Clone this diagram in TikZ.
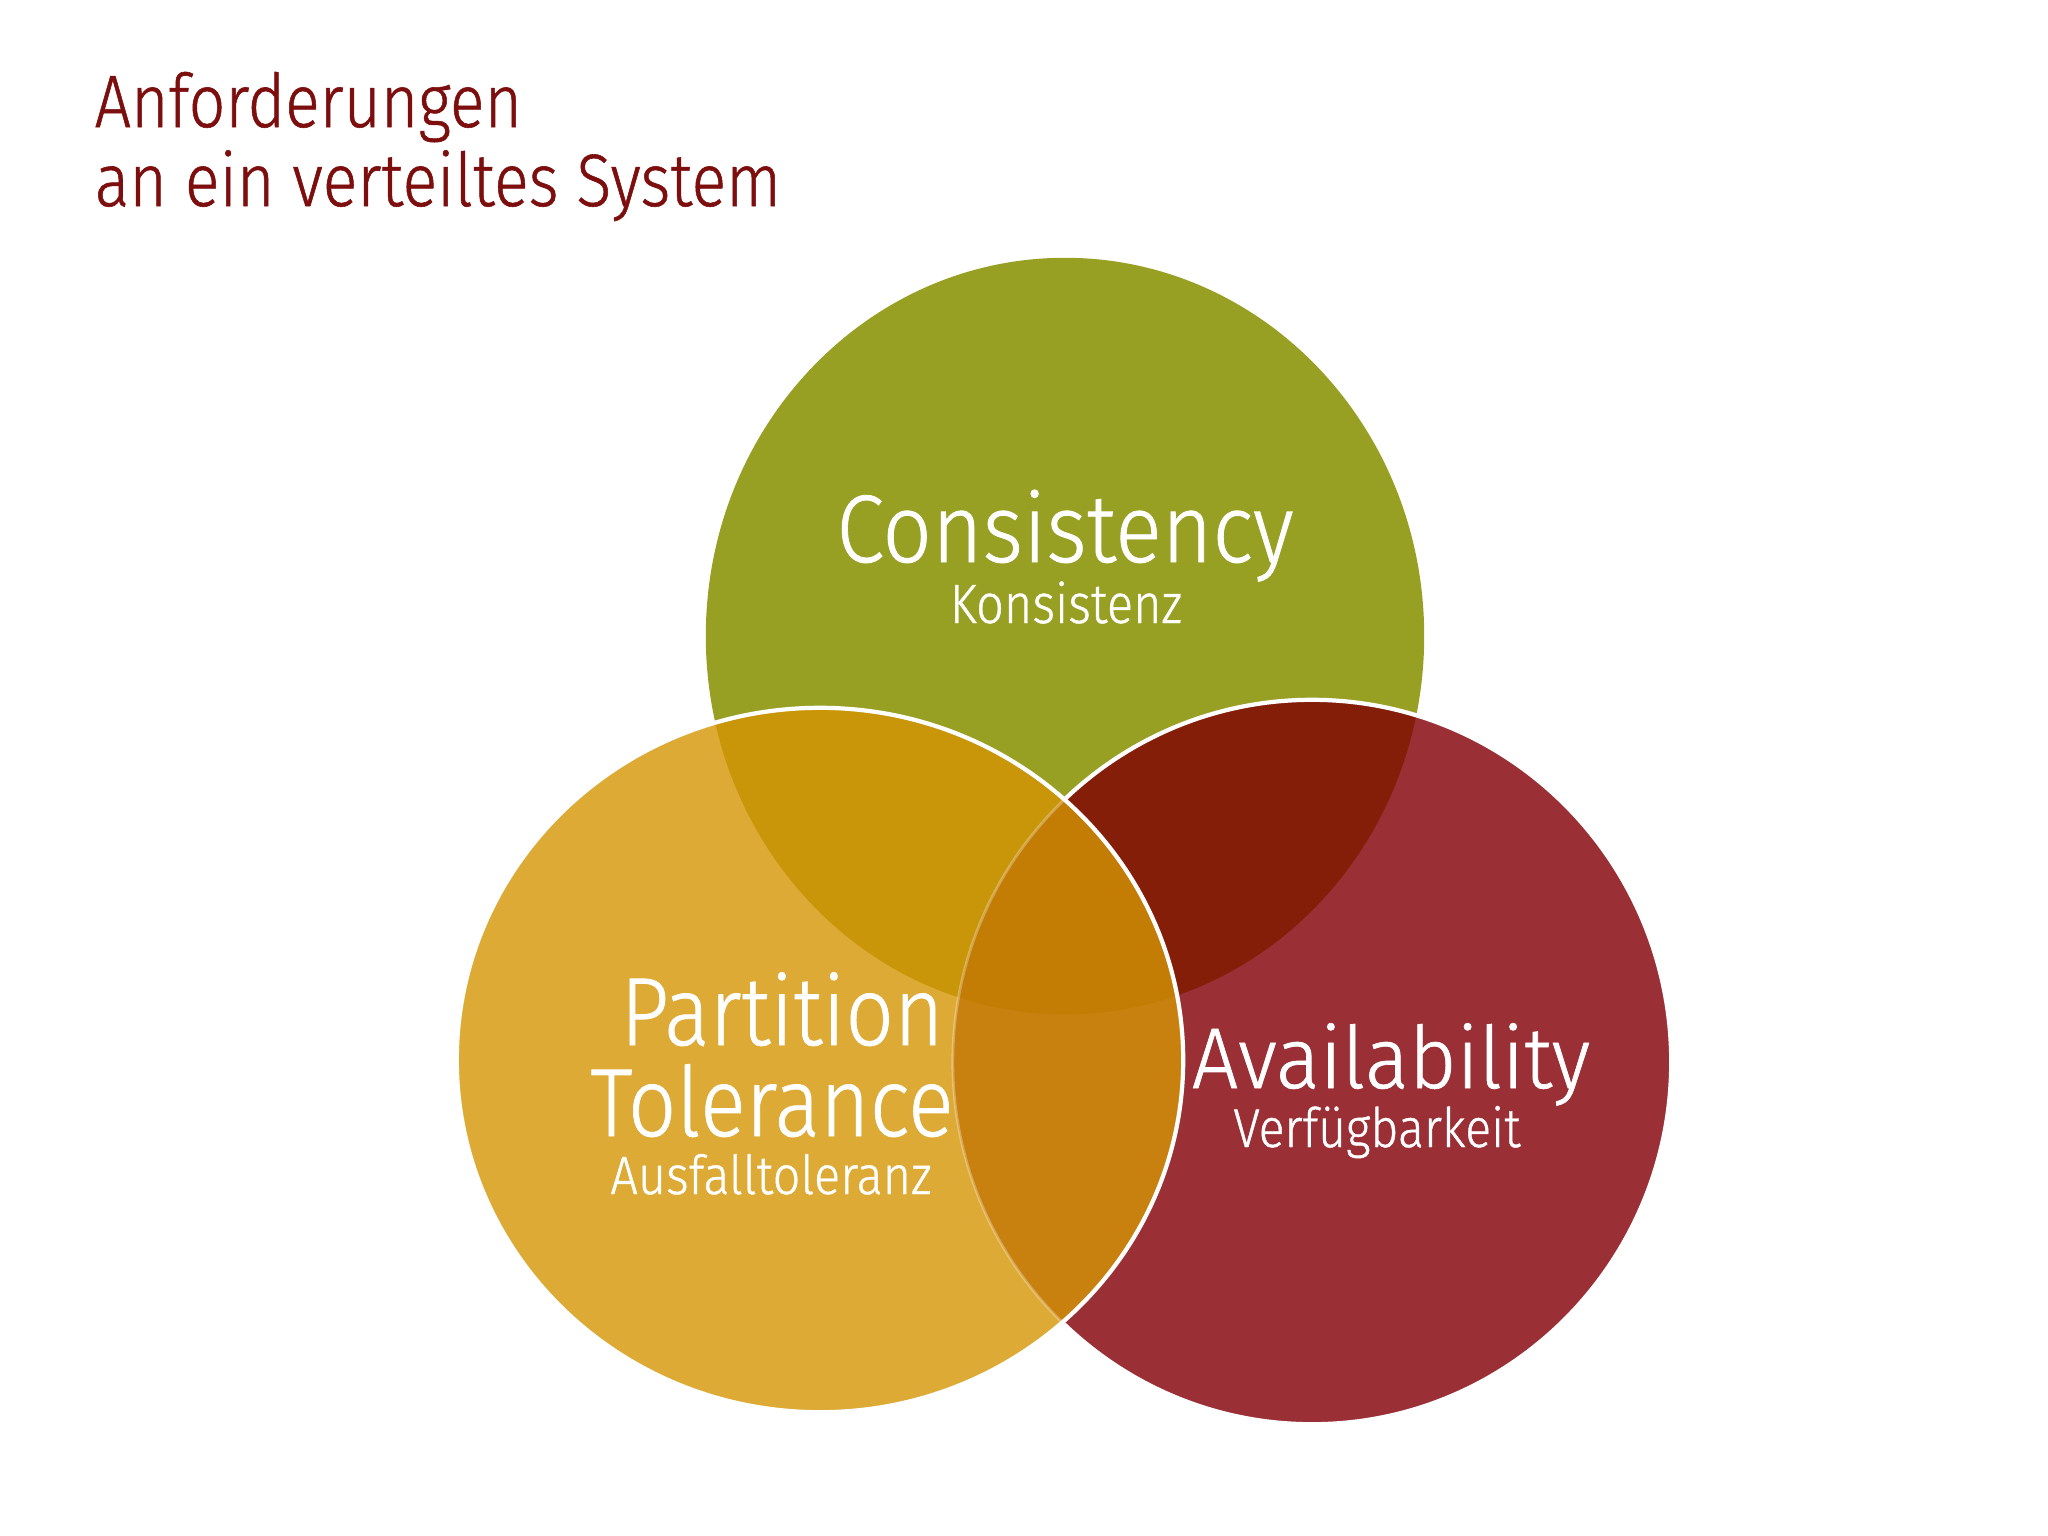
\documentclass[tikz,border=0pt]{standalone}
\usepackage{fontspec}
\setmainfont{Fira Sans}[UprightFont=* Light, UprightFeatures={FakeBold=0.8}]
\usepackage{graphicx}
\definecolor{cG}{RGB}{152,160,36}
\definecolor{cR}{RGB}{154,48,53}
\definecolor{cY}{RGB}{221,170,53}
\definecolor{cGY}{RGB}{200,150,8}
\definecolor{cGR}{RGB}{133,30,8}
\definecolor{cYR}{RGB}{200,128,14}
\definecolor{cGYR}{RGB}{195,124,4}
\definecolor{titlered}{RGB}{125,14,14}
\tikzset{
  gshape/.style={insert path={(1065,636) ellipse [x radius=3.59cm, y radius=3.78cm]}},
  yshape/.style={insert path={(820,1060) ellipse [x radius=3.63cm, y radius=3.52cm]}},
  rshape/.style={insert path={(1312,1062) ellipse [x radius=3.59cm, y radius=3.62cm]}},
  outline/.style={draw=white, line width=1.2pt},
  lbl/.style={text=white, inner sep=0pt, anchor=base},
  ttl/.style={text=titlered, inner sep=0pt, anchor=base west, font=\fontsize{21.1pt}{25pt}\selectfont},
}
\newcommand{\fitw}[2]{\resizebox{#1}{\height}{#2}}
\begin{document}
\begin{tikzpicture}[x=0.01cm, y=-0.01cm]
\useasboundingbox (0,0) rectangle (2048,1536);
\fill[white] (0,0) rectangle (2048,1536);
% base shapes
\fill[cG, gshape];
\fill[cR, rshape];
\begin{scope}
  \clip[gshape];
  \fill[cGR, rshape];
\end{scope}
\path[outline, rshape];
\fill[cY, yshape];
\begin{scope}
  \clip[yshape];
  \fill[cGY, gshape];
  \fill[cYR, rshape];
  \begin{scope}
    \clip[gshape];
    \fill[cGYR, rshape];
  \end{scope}
  \path[draw=white, draw opacity=0.3, line width=0.8pt, rshape];
\end{scope}
\path[outline, yshape];
% title
\node[ttl] (t1) at (94,127) {\fitw{4.27cm}{Anforderungen}};
\node[ttl] (t2) at (94,206) {\fitw{6.86cm}{an ein verteiltes System}};
% labels
\node[lbl, font=\fontsize{27.3pt}{30pt}\selectfont] (cons) at (1065,562) {\fitw{4.57cm}{Consistency}};
\node[lbl, font=\fontsize{15.7pt}{18pt}\selectfont] (kons) at (1066,623) {\fitw{2.32cm}{Konsistenz}};
\node[lbl, text depth=0pt, font=\fontsize{27.5pt}{30pt}\selectfont] (part) at (782,1045) {\fitw{3.23cm}{Partition}};
\node[lbl, text depth=0pt, font=\fontsize{27.5pt}{30pt}\selectfont] (tol) at (772,1136) {\fitw{3.63cm}{Tolerance}};
\node[lbl, font=\fontsize{15.3pt}{18pt}\selectfont] (ausf) at (771,1194) {\fitw{3.21cm}{Ausfalltoleranz}};
\node[lbl, font=\fontsize{24.5pt}{28pt}\selectfont] (avail) at (1391,1088) {\fitw{3.98cm}{Availability}};
\node[lbl, font=\fontsize{15.5pt}{18pt}\selectfont] (verf) at (1377,1147) {\fitw{2.87cm}{Verfügbarkeit}};
\end{tikzpicture}
\end{document}
